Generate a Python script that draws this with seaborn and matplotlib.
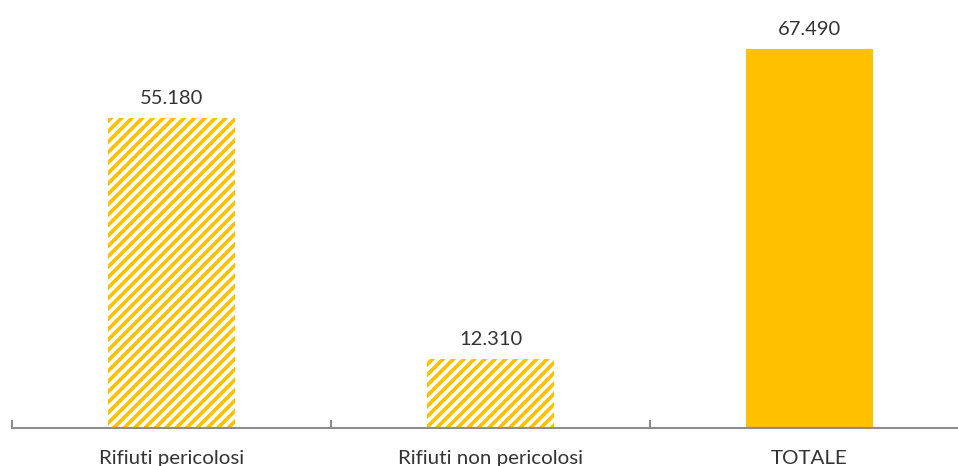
import matplotlib
matplotlib.use("Agg")
import matplotlib.pyplot as plt
import seaborn as sns
import pandas as pd

categories = ["Rifiuti pericolosi", "Rifiuti non pericolosi", "TOTALE"]
values = [55180, 12310, 67490]
value_labels = ["55.180", "12.310", "67.490"]
hatched = [True, True, False]

GOLD = "#FFC000"
TEXT = "#333333"
AXIS = "#8C8C8C"

sns.set_theme(style="white")
plt.rcParams["font.family"] = ["Lato", "DejaVu Sans"]
plt.rcParams["hatch.linewidth"] = 2.1

DPI = 125
fig = plt.figure(figsize=(958 / DPI, 466 / DPI), dpi=DPI)
ax = fig.add_axes([12 / 958, 38 / 466, 957 / 958, 428 / 466])

df = pd.DataFrame({"categoria": categories, "valore": values})
sns.barplot(data=df, x="categoria", y="valore", color=GOLD, saturation=1,
            width=0.4, ax=ax)

for patch, h in zip(ax.patches, hatched):
    patch.set_linewidth(0)
    if h:
        patch.set_facecolor("white")
        patch.set_edgecolor(GOLD)
        patch.set_hatch("////")
    else:
        patch.set_facecolor(GOLD)
        patch.set_edgecolor(GOLD)

for i, (v, lab) in enumerate(zip(values, value_labels)):
    ax.annotate(lab, (i, v), xytext=(0, 6.5), textcoords="offset points",
                ha="center", va="bottom", fontsize=11.6, color=TEXT)

ax.set_xlim(-0.5, 2.5)
ax.set_ylim(0, 428 * 67490 / 379)
ax.set_xlabel("")
ax.set_ylabel("")
ax.set_yticks([])

for s in ["top", "right", "left"]:
    ax.spines[s].set_visible(False)
ax.spines["bottom"].set_color(AXIS)
ax.spines["bottom"].set_linewidth(1.2)

ax.set_xticks([0, 1, 2])
ax.set_xticklabels(categories, fontsize=11.8, color=TEXT)
ax.set_xticks([-0.5, 0.5, 1.5, 2.5], minor=True)
ax.tick_params(axis="x", which="major", length=0, pad=12.5)
ax.tick_params(axis="x", which="minor", direction="in", length=4.5,
               width=1.2, color=AXIS, bottom=True)

fig.savefig("out.png", dpi=DPI)
